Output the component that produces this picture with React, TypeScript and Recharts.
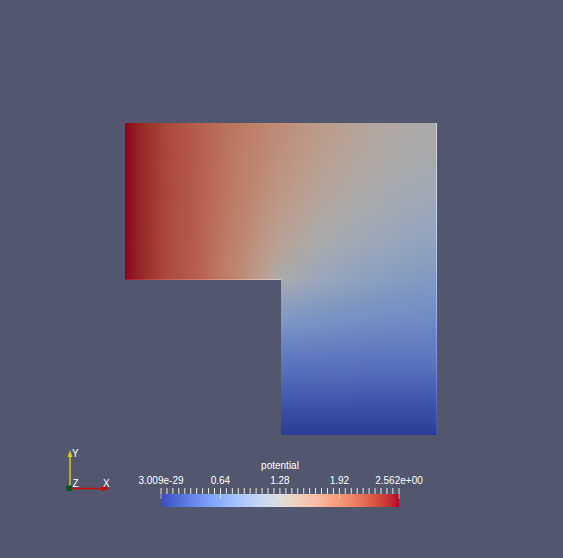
import React from "react";
import { ComposedChart, ReferenceArea, XAxis, YAxis } from "recharts";

const V_MAX = 2.562;
const LIT = 0.77; // surface is darkened by the light kit, colorbar is not

const xNodes = [-1, -0.75, -0.5, -0.25, 0, 0.25, 0.5, 0.75, 1];
const rowYs = [1, 0.75, 0.5, 0.25, 0, -0.25, -0.5, -0.75, -1];

const potRowY100 = [2.562, 2.27, 2.07, 1.88, 1.72, 1.56, 1.43, 1.33, 1.28];
const potRowY075 = [2.562, 2.27, 2.07, 1.86, 1.66, 1.49, 1.37, 1.28, 1.23];
const potRowY050 = [2.562, 2.27, 2.06, 1.83, 1.58, 1.4, 1.28, 1.19, 1.13];
const potRowY025 = [2.562, 2.26, 2.05, 1.78, 1.46, 1.28, 1.16, 1.07, 1.0];
const potRowY000 = [2.562, 2.26, 2.04, 1.72, 1.28, 1.1, 0.98, 0.9, 0.84];
// lower leg only covers x = 0..1
const potRowYm025 = [0.84, 0.78, 0.73, 0.7, 0.68];
const potRowYm050 = [0.52, 0.51, 0.5, 0.49, 0.49];
const potRowYm075 = [0.26, 0.26, 0.25, 0.25, 0.25];
const potRowYm100 = [0, 0, 0, 0, 0];

const potRows = [
  potRowY100,
  potRowY075,
  potRowY050,
  potRowY025,
  potRowY000,
  potRowYm025,
  potRowYm050,
  potRowYm075,
  potRowYm100,
];

const cbTickValues = [0, 0.64, 1.28, 1.92, 2.562];
const cbTickLabels = ["3.009e-29", "0.64", "1.28", "1.92", "2.562e+00"];
const cbTicks = [...Array.from({ length: 40 }, (_, i) => i * 0.064), V_MAX];

// ParaView "Cool to Warm"
const COOL_WARM = [
  [59, 76, 192], [68, 90, 204], [77, 104, 215], [87, 117, 225], [98, 130, 234],
  [108, 142, 241], [119, 154, 247], [130, 165, 251], [141, 176, 254], [152, 185, 255],
  [163, 194, 255], [174, 201, 253], [184, 208, 249], [194, 213, 244], [204, 217, 238],
  [213, 219, 230], [221, 221, 221], [229, 216, 209], [236, 211, 197], [241, 204, 185],
  [245, 196, 173], [247, 187, 160], [247, 177, 148], [247, 166, 135], [244, 154, 123],
  [241, 141, 111], [236, 127, 99], [229, 112, 88], [222, 96, 77], [213, 80, 66],
  [203, 62, 56], [192, 40, 47], [180, 4, 38],
];

function cwColor(v: number, shade = 1) {
  const n = COOL_WARM.length - 1;
  const t = Math.max(0, Math.min(1, v / V_MAX)) * n;
  const i = Math.min(n - 1, Math.floor(t));
  const f = t - i;
  const a = COOL_WARM[i];
  const b = COOL_WARM[i + 1];
  const c = a.map((ch, k) => Math.round((ch + (b[k] - ch) * f) * shade));
  return `rgb(${c.join(",")})`;
}

const SUB = 6;
function rowStops(values: number[], xs: number[], shade: number) {
  const x0 = xs[0];
  const span = xs[xs.length - 1] - x0;
  const out: { off: number; color: string }[] = [];
  for (let i = 0; i < values.length - 1; i++) {
    for (let s = 0; s < SUB; s++) {
      const f = s / SUB;
      out.push({
        off: (xs[i] + (xs[i + 1] - xs[i]) * f - x0) / span,
        color: cwColor(values[i] + (values[i + 1] - values[i]) * f, shade),
      });
    }
  }
  out.push({ off: 1, color: cwColor(values[values.length - 1], shade) });
  return out;
}

const bands = potRows.slice(0, -1).map((upper, k) => {
  const lower = potRows[k + 1];
  const n = Math.min(upper.length, lower.length);
  const xs = xNodes.slice(xNodes.length - n);
  return {
    k,
    xs,
    yTop: rowYs[k],
    yBottom: rowYs[k + 1],
    up: rowStops(upper.slice(upper.length - n), xs, LIT),
    low: rowStops(lower.slice(lower.length - n), xs, LIT),
  };
});

const rightColumn = potRows.map((r) => r[r.length - 1]);
const PX = 1 / 156;

const FONT = "'Liberation Sans', Arial, sans-serif";

const renderCbTick = (props: any) => {
  const { x, y, payload } = props;
  const idx = cbTickValues.findIndex((v) => Math.abs(v - payload.value) < 1e-6);
  return (
    <g>
      <line x1={x} x2={x} y1={y - 6} y2={y} stroke="#e6e6e6" strokeWidth={1} />
      {idx >= 0 && (
        <>
          <line x1={x} x2={x} y1={y} y2={y + 5} stroke="rgba(255,255,255,0.55)" strokeWidth={1} />
          <text x={x} y={y - 10} textAnchor="middle" fill="#fff" fontSize={10} fontFamily={FONT}>
            {cbTickLabels[idx]}
          </text>
        </>
      )}
    </g>
  );
};

function Triad() {
  return (
    <svg
      width={563}
      height={558}
      style={{ position: "absolute", left: 0, top: 0, pointerEvents: "none" }}
    >
      <line x1={70} y1={488} x2={70} y2={456} stroke="#d4cc00" strokeWidth={1.5} />
      <polygon points="70,450 67.5,457 72.5,457" fill="#d4cc00" />
      <line x1={72} y1={488.5} x2={102} y2={488.5} stroke="#d20a0a" strokeWidth={1.5} />
      <polygon points="109,488.5 102,485.5 102,491.5" fill="#c80808" />
      <rect x={66.5} y={485.5} width={5.5} height={5.5} fill="#005a1a" />
      <g fill="#fff" fontSize={10} fontFamily={FONT}>
        <text x={72} y={457}>Y</text>
        <text x={72.5} y={487}>Z</text>
        <text x={103} y={487}>X</text>
      </g>
    </svg>
  );
}

export default function App() {
  return (
    <div
      style={{
        position: "absolute",
        left: 0,
        top: 0,
        width: 563,
        height: 558,
        background: "#52576e",
        overflow: "hidden",
      }}
    >
      <div style={{ position: "absolute", left: 0, top: 0 }}>
        <ComposedChart
          width={563}
          height={558}
          data={xNodes.map((x) => ({ x }))}
          margin={{ top: 123, right: 126, bottom: 123, left: 125 }}
        >
          <defs>
            {bands.map((b) => (
              <React.Fragment key={b.k}>
                <linearGradient id={`bandUp${b.k}`} x1="0" y1="0" x2="1" y2="0">
                  {b.up.map((s, i) => (
                    <stop key={i} offset={s.off} stopColor={s.color} />
                  ))}
                </linearGradient>
                <linearGradient id={`bandLow${b.k}`} x1="0" y1="0" x2="1" y2="0">
                  {b.low.map((s, i) => (
                    <stop key={i} offset={s.off} stopColor={s.color} />
                  ))}
                </linearGradient>
              </React.Fragment>
            ))}
            <linearGradient id="fadeGrad" x1="0" y1="0" x2="0" y2="1">
              <stop offset={0} stopColor="#fff" />
              <stop offset={1} stopColor="#000" />
            </linearGradient>
            <mask id="fadeDown" maskContentUnits="objectBoundingBox">
              <rect x={0} y={0} width={1} height={1} fill="url(#fadeGrad)" />
            </mask>
            <linearGradient id="edgeRight" x1="0" y1="0" x2="0" y2="1">
              {rightColumn.map((v, i) => (
                <stop key={i} offset={(1 - rowYs[i]) / 2} stopColor={cwColor(v)} />
              ))}
            </linearGradient>
            <linearGradient id="edgeInner" x1="0" y1="0" x2="1" y2="0">
              {rowStops(potRowY000.slice(0, 5), xNodes.slice(0, 5), 1).map((s, i) => (
                <stop key={i} offset={s.off} stopColor={s.color} />
              ))}
            </linearGradient>
          </defs>
          <XAxis dataKey="x" type="number" domain={[-1, 1]} hide allowDataOverflow />
          <YAxis type="number" domain={[-1, 1]} hide allowDataOverflow />
          {bands.map((b) => (
            <ReferenceArea
              key={b.k}
              x1={b.xs[0]}
              x2={1}
              y1={b.yBottom}
              y2={b.yTop}
              shape={(p: any) => (
                <g>
                  <rect x={p.x} y={p.y} width={p.width} height={p.height} fill={`url(#bandLow${b.k})`} />
                  <rect
                    x={p.x}
                    y={p.y}
                    width={p.width}
                    height={p.height}
                    fill={`url(#bandUp${b.k})`}
                    mask="url(#fadeDown)"
                  />
                </g>
              )}
            />
          ))}
          <ReferenceArea
            x1={1 - PX}
            x2={1}
            y1={-1}
            y2={1}
            shape={(p: any) => (
              <rect x={p.x} y={p.y} width={p.width} height={p.height} fill="url(#edgeRight)" opacity={0.85} />
            )}
          />
          <ReferenceArea
            x1={-1}
            x2={0}
            y1={-PX}
            y2={0}
            shape={(p: any) => (
              <rect x={p.x} y={p.y} width={p.width} height={p.height} fill="url(#edgeInner)" opacity={0.85} />
            )}
          />
        </ComposedChart>
      </div>

      <div style={{ position: "absolute", left: 111, top: 455 }}>
        <ComposedChart
          width={338}
          height={60}
          data={cbTickValues.map((v) => ({ v, h: 1 }))}
          margin={{ top: 9, right: 50, bottom: 8, left: 50 }}
        >
          <defs>
            <linearGradient id="cbGrad" x1="0" y1="0" x2="1" y2="0">
              {COOL_WARM.map((c, i) => (
                <stop key={i} offset={i / (COOL_WARM.length - 1)} stopColor={`rgb(${c.join(",")})`} />
              ))}
            </linearGradient>
          </defs>
          <XAxis
            dataKey="v"
            type="number"
            orientation="top"
            domain={[0, V_MAX]}
            ticks={cbTicks}
            interval={0}
            height={30}
            tickSize={0}
            tickMargin={0}
            axisLine={false}
            tickLine={false}
            tick={renderCbTick}
            allowDataOverflow
          />
          <YAxis dataKey="h" type="number" domain={[0, 1]} hide allowDataOverflow />
          <ReferenceArea
            x1={0}
            x2={V_MAX}
            y1={0}
            y2={1}
            ifOverflow="visible"
            shape={(p: any) => (
              <g>
                <rect x={p.x} y={p.y} width={p.width} height={p.height} fill="url(#cbGrad)" />
                <text
                  x={p.x + p.width / 2}
                  y={p.y - 25}
                  textAnchor="middle"
                  fill="#fff"
                  fontSize={10}
                  fontFamily={FONT}
                >
                  potential
                </text>
              </g>
            )}
          />
        </ComposedChart>
      </div>

      <Triad />
    </div>
  );
}
